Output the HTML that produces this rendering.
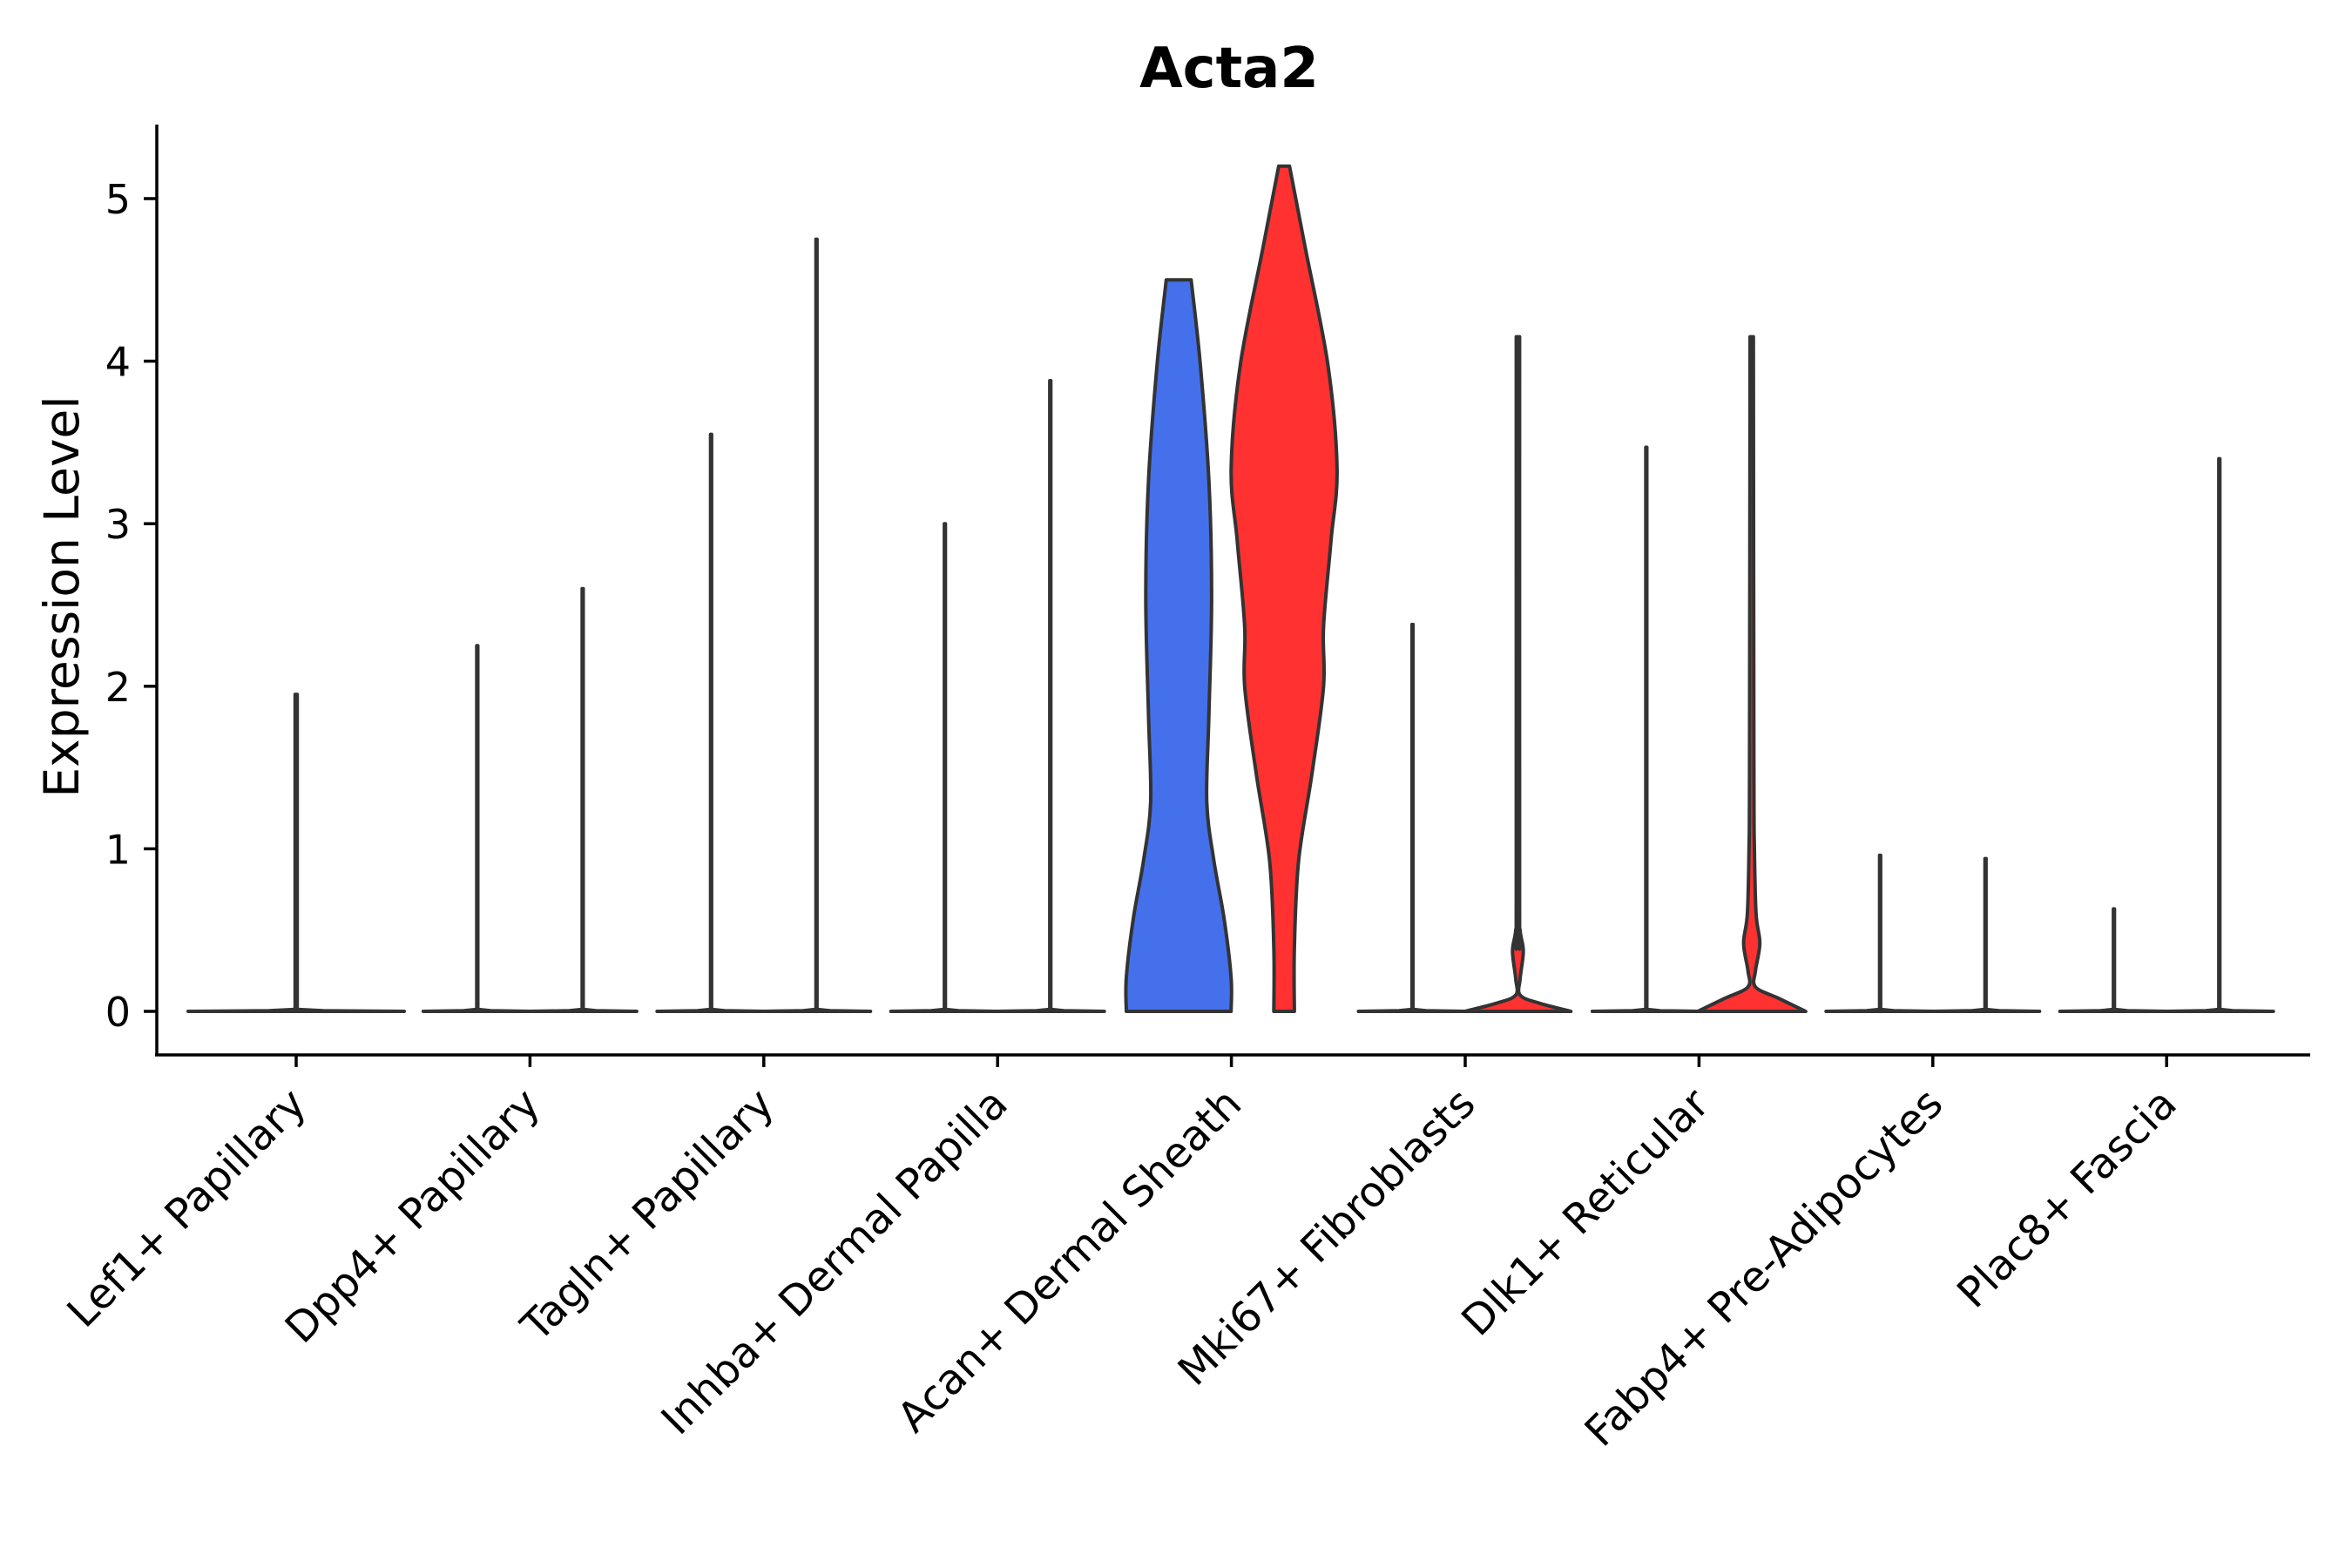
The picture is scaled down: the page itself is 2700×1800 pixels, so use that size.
<!DOCTYPE html>
<html><head><meta charset="utf-8"><style>
html,body{margin:0;padding:0;background:#fff}
svg{display:block}
text{font-family:"DejaVu Sans","Liberation Sans",sans-serif;fill:#000}
</style></head><body>
<svg id="chart" width="2700" height="1800" viewBox="0 0 2700 1800">
<text x="1411" y="100" font-size="64" font-weight="bold" text-anchor="middle">Acta2</text>
<text transform="translate(90,685) rotate(-90)" font-size="55" text-anchor="middle">Expression Level</text>
<g id="marks"></g>
<line x1="180" y1="143" x2="180" y2="1211" stroke="#000" stroke-width="3.5"/>
<line x1="178" y1="1211" x2="2652" y2="1211" stroke="#000" stroke-width="3.5"/>
<g id="axes"></g>
</svg>
<script>
const categories = ["Lef1+ Papillary","Dpp4+ Papillary","Tagln+ Papillary","Inhba+ Dermal Papilla","Acan+ Dermal Sheath","Mki67+ Fibroblasts","Dlk1+ Reticular","Fabp4+ Pre-Adipocytes","Plac8+ Fascia"];
const yTicks = [0,1,2,3,4,5];
// max expression per group: [blue, red] (null = no violin)
const maxBlue = [1.95, 2.25, 3.55, 3.0, 4.5, 2.38, 3.47, 0.96, 0.63];
const maxRed  = [null, 2.6, 4.75, 3.88, 5.2, 4.15, 4.15, 0.94, 3.4];
// detailed density profiles (level, relative half-width)
const acanBlueLevels = [0, 0.21, 0.57, 0.93, 1.29, 1.83, 2.55, 3.26, 3.98, 4.5];
const acanBlueWidths = [0.97, 0.97, 0.84, 0.65, 0.52, 0.56, 0.61, 0.56, 0.40, 0.23];
const acanRedLevels = [0, 0.39, 0.93, 1.47, 2.0, 2.37, 2.9, 3.34, 3.98, 4.7, 5.2];
const acanRedWidths = [0.19, 0.19, 0.27, 0.52, 0.73, 0.73, 0.87, 0.98, 0.81, 0.39, 0.1];
const mkiRedLevels = [0, 0.05, 0.1, 0.2, 0.37, 0.5, 0.7, 4.15];
const mkiRedWidths = [0.98, 0.4, 0.04, 0.04, 0.1, 0.04, 0.03, 0.03];
const dlkRedLevels = [0, 0.08, 0.15, 0.25, 0.42, 0.6, 1.0, 1.5, 4.15];
const dlkRedWidths = [1.0, 0.5, 0.07, 0.07, 0.15, 0.08, 0.05, 0.04, 0.03];

const NS = "http://www.w3.org/2000/svg";
const Y0 = 1161, PX = 186.6, X0 = 340, STEP = 268.4, OFF = 60.5, HW = 62;
function yScale(v){ return Y0 - v*PX; }
function xScale(i){ return X0 + i*STEP; }

function smoothSeg(pts){
  let s = "";
  for (let k=0;k<pts.length-1;k++){
    const p0 = pts[Math.max(k-1,0)], p1 = pts[k], p2 = pts[k+1], p3 = pts[Math.min(k+2,pts.length-1)];
    const c1 = [p1[0]+(p2[0]-p0[0])/6, p1[1]+(p2[1]-p0[1])/6];
    const c2 = [p2[0]-(p3[0]-p1[0])/6, p2[1]-(p3[1]-p1[1])/6];
    s += " C"+c1[0].toFixed(1)+","+c1[1].toFixed(1)+" "+c2[0].toFixed(1)+","+c2[1].toFixed(1)+" "+p2[0].toFixed(1)+","+p2[1].toFixed(1);
  }
  return s;
}
function lineSeg(pts){
  let s = "";
  for (let k=1;k<pts.length;k++) s += " L"+pts[k][0].toFixed(1)+","+pts[k][1].toFixed(1);
  return s;
}
function violinPath(cx, levels, widths, maxHW, smooth){
  const right = [], left = [];
  for (let k=0;k<levels.length;k++){
    const y = yScale(levels[k]);
    right.push([cx + widths[k]*maxHW, y]);
    left.push([cx - widths[k]*maxHW, y]);
  }
  left.reverse();
  const seg = smooth ? smoothSeg : lineSeg;
  return "M"+right[0][0].toFixed(1)+","+right[0][1].toFixed(1)+seg(right)+
         " L"+left[0][0].toFixed(1)+","+left[0][1].toFixed(1)+seg(left)+" Z";
}
function flatProfile(mx){ return {l:[0, 0.004, 0.012, mx], w:[1, 0.25, 0.01, 0.01]}; }

const marks = document.getElementById("marks");
function addViolin(d, fill, name){
  const p = document.createElementNS(NS,"path");
  p.setAttribute("d", d);
  p.setAttribute("fill", fill);
  p.setAttribute("stroke", "#333");
  p.setAttribute("stroke-width", "4");
  p.setAttribute("stroke-linejoin", "round");
  
  
  marks.appendChild(p);
}
categories.forEach((c,i)=>{
  const cx = xScale(i);
  if (maxRed[i] === null){
    const f = flatProfile(maxBlue[i]);
    addViolin(violinPath(cx, f.l, f.w, 2*HW, false), "#4470eb", "violin-"+i);
    return;
  }
  let bl, bw, rl, rw, bs=false, rs=false;
  if (i===4){ bl=acanBlueLevels; bw=acanBlueWidths; bs=true; }
  else { const f=flatProfile(maxBlue[i]); bl=f.l; bw=f.w; }
  if (i===4){ rl=acanRedLevels; rw=acanRedWidths; rs=true; }
  else if (i===5){ rl=mkiRedLevels.slice(); rw=mkiRedWidths; rl[rl.length-1]=maxRed[i]; rs=true; }
  else if (i===6){ rl=dlkRedLevels.slice(); rw=dlkRedWidths; rl[rl.length-1]=maxRed[i]; rs=true; }
  else { const f=flatProfile(maxRed[i]); rl=f.l; rw=f.w; }
  addViolin(violinPath(cx-OFF, bl, bw, HW, bs), "#4470eb", "violin-blue-"+i);
  addViolin(violinPath(cx+OFF, rl, rw, HW, rs), "#ff3131", "violin-red-"+i);
});

const axes = document.getElementById("axes");
yTicks.forEach(t=>{
  const y = yScale(t);
  const l = document.createElementNS(NS,"line");
  l.setAttribute("x1",165); l.setAttribute("x2",180);
  l.setAttribute("y1",y); l.setAttribute("y2",y);
  l.setAttribute("stroke","#000"); l.setAttribute("stroke-width","3.5");
  
  
  axes.appendChild(l);
  const tx = document.createElementNS(NS,"text");
  tx.setAttribute("x",150); tx.setAttribute("y",y+17);
  tx.setAttribute("font-size","46"); tx.setAttribute("text-anchor","end");
  tx.textContent = t;
  
  
  axes.appendChild(tx);
});
categories.forEach((c,i)=>{
  const x = xScale(i);
  const l = document.createElementNS(NS,"line");
  l.setAttribute("x1",x); l.setAttribute("x2",x);
  l.setAttribute("y1",1211); l.setAttribute("y2",1225);
  l.setAttribute("stroke","#000"); l.setAttribute("stroke-width","3.5");
  
  
  axes.appendChild(l);
  const tx = document.createElementNS(NS,"text");
  tx.setAttribute("transform","translate("+(x+14)+",1270) rotate(-45)");
  tx.setAttribute("font-size","48"); tx.setAttribute("text-anchor","end");
  tx.textContent = c;
  
  
  axes.appendChild(tx);
});
</script>
</body></html>
